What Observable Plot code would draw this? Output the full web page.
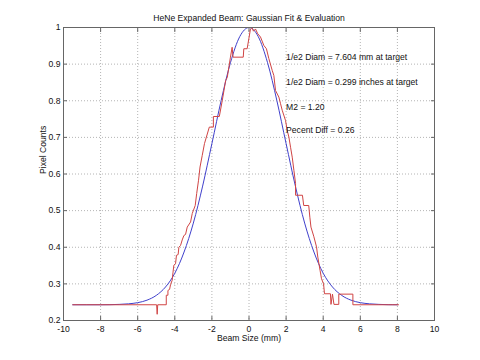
<!DOCTYPE html>
<html><head><meta charset="utf-8">
<script src="https://cdn.jsdelivr.net/npm/d3@7"></script>
<script src="https://cdn.jsdelivr.net/npm/@observablehq/plot@0.6"></script>
<style>body{margin:0;background:#fff}</style>
</head><body><div id="chart"></div>
<script>
const titleText = "HeNe Expanded Beam: Gaussian Fit & Evaluation";
const xLabel = "Beam Size (mm)";
const yLabel = "Pixel Counts";
const xTicks = [-10,-8,-6,-4,-2,0,2,4,6,8,10];
const yTicks = [0.2,0.3,0.4,0.5,0.6,0.7,0.8,0.9,1];

// measured (red step profile)
const redX = [-9.5,-4.98,-4.95,-4.92,-4.46,-4.46,-4.37,-4.37,-4.28,-4.23,-4.14,-4.1,-4.05,-3.96,-3.91,-3.82,-3.78,-3.69,-3.6,-3.51,-3.42,-3.33,-3.15,-3.06,-2.9,-2.82,-2.72,-2.64,-2.52,-2.4,-2.14,-1.92,-1.92,-1.6,-1.44,-1.26,-1.17,-1.0,-0.91,-0.86,-0.31,-0.28,-0.1,-0.01,0.08,0.16,0.24,0.35,0.47,0.62,0.8,0.94,1.07,1.25,1.34,1.43,1.61,1.7,1.79,1.97,2.06,2.15,2.24,2.33,2.42,2.51,2.51,2.88,2.95,3.22,3.28,3.34,3.49,3.64,3.71,3.83,3.91,4.02,4.07,4.39,4.42,4.5,4.58,4.84,4.84,5.6,5.6,8.06];
const redY = [0.243,0.243,0.217,0.243,0.243,0.269,0.269,0.282,0.285,0.298,0.31,0.33,0.351,0.355,0.378,0.38,0.4,0.405,0.42,0.432,0.435,0.455,0.469,0.492,0.514,0.547,0.583,0.619,0.651,0.683,0.728,0.728,0.757,0.757,0.801,0.855,0.864,0.919,0.946,0.919,0.919,0.942,0.942,0.969,0.996,1.0,0.99,0.996,0.983,0.974,0.951,0.942,0.915,0.883,0.869,0.828,0.81,0.792,0.774,0.746,0.719,0.701,0.673,0.646,0.61,0.574,0.542,0.542,0.514,0.514,0.482,0.455,0.43,0.401,0.373,0.337,0.314,0.3,0.273,0.273,0.244,0.272,0.244,0.244,0.272,0.272,0.243,0.243];

// fitted gaussian (blue), read at sample points
const blueX = [-9.5,-8,-7.5,-7,-6.5,-6,-5.5,-5,-4.5,-4,-3.5,-3,-2.5,-2,-1.5,-1,-0.5,0,0.5,1,1.5,2,2.5,3,3.5,4,4.5,5,5.5,6,6.5,7,7.5,8];
const blueY = [0.243,0.243,0.2432,0.244,0.2455,0.2487,0.2555,0.2685,0.2915,0.329,0.387,0.466,0.567,0.683,0.801,0.904,0.975,1.0,0.975,0.904,0.801,0.683,0.567,0.466,0.387,0.329,0.2915,0.2685,0.2555,0.2487,0.2455,0.244,0.2432,0.243];

const notes = ["1/e2 Diam = 7.604 mm at target","1/e2 Diam = 0.299 inches at target","M2 = 1.20","Pecent Diff = 0.26"];
const noteX = [2,2,2,2];
const noteY = [0.92,0.85,0.782,0.72];

const red = redX.map((x,i)=>({x, y: redY[i]}));
const blue = blueX.map((x,i)=>({x, y: blueY[i]}));
const noteRows = notes.map((t,i)=>({t, x: noteX[i], y: noteY[i]}));

const fs = 8.6;
const gridStyle = {stroke: "#b4b4b4", strokeOpacity: 1, strokeDasharray: "1,2"};
const chart = Plot.plot({
  width: 480, height: 360,
  marginLeft: 63, marginRight: 46, marginTop: 27, marginBottom: 40,
  style: {fontFamily: "'Liberation Sans', Arial, Helvetica, sans-serif", fontSize: fs + "px", background: "#fff", color: "#111"},
  x: {domain: [-10, 10], label: null},
  y: {domain: [0.2, 1], label: null},
  marks: [
    Plot.gridX(xTicks.slice(1, -1), gridStyle),
    Plot.gridY(yTicks.slice(1, -1), gridStyle),
    Plot.axisX(xTicks, {anchor: "bottom", tickSize: 0, tickPadding: 5, tickFormat: d => String(d), label: null}),
    Plot.axisY(yTicks, {anchor: "left", tickSize: 0, tickPadding: 3, tickFormat: d => String(d), label: null}),
    Plot.axisX(xTicks, {anchor: "bottom", tickSize: 4, dy: -4, fill: "none", stroke: "#666", label: null}),
    Plot.axisX(xTicks, {anchor: "top", tickSize: 4, dy: 4, fill: "none", stroke: "#666", label: null}),
    Plot.axisY(yTicks, {anchor: "left", tickSize: 4, dx: 4, fill: "none", stroke: "#666", label: null}),
    Plot.axisY(yTicks, {anchor: "right", tickSize: 4, dx: -4, fill: "none", stroke: "#666", label: null}),
    Plot.line(blue, {x: "x", y: "y", stroke: "#4040cc", strokeWidth: 1, curve: "monotone-x", clip: true}),
    Plot.line(red, {x: "x", y: "y", stroke: "#d04444", strokeWidth: 1, clip: true}),
    Plot.frame({stroke: "#666"}),
    Plot.text(noteRows, {x: "x", y: "y", text: "t", textAnchor: "start", lineAnchor: "middle", fontSize: fs, fill: "#111"}),
    Plot.text([titleText], {frameAnchor: "top", dy: -7, lineAnchor: "bottom", fontSize: fs, fill: "#111"}),
    Plot.text([xLabel], {frameAnchor: "bottom", dy: 20, lineAnchor: "bottom", fontSize: fs, fill: "#111"}),
    Plot.text([yLabel], {frameAnchor: "left", dx: -20.5, rotate: -90, fontSize: fs, fill: "#111"})
  ]
});
document.getElementById("chart").append(chart);
</script>
</body></html>
